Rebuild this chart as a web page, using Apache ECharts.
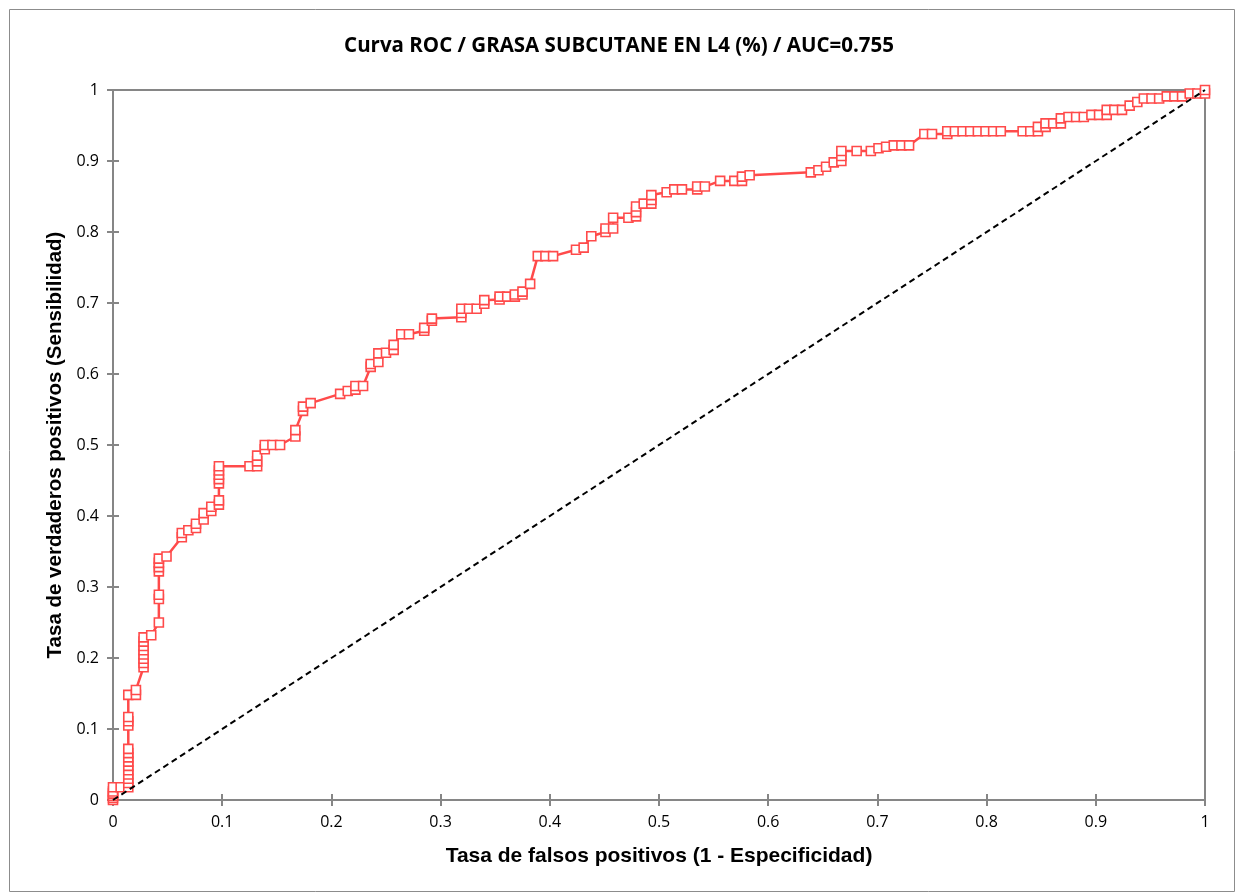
<!DOCTYPE html>
<html>
<head>
<meta charset="utf-8">
<script src="https://cdn.jsdelivr.net/npm/echarts@6/dist/echarts.min.js"></script>
<style>html,body{margin:0;padding:0;background:#fff;}#c{width:1238px;height:896px;}</style>
</head>
<body>
<div id="c"></div>
<script>
const titleText = 'Curva ROC / GRASA SUBCUTANE EN L4 (%) / AUC=0.755';
const xName = 'Tasa de falsos positivos (1 - Especificidad)';
const yName = 'Tasa de verdaderos positivos (Sensibilidad)';
const tickLabels = ['0','0.1','0.2','0.3','0.4','0.5','0.6','0.7','0.8','0.9','1'];

const fpr = [0,0,0,0,0,0,0.007,0.014,0.014,0.014,0.014,0.014,0.014,0.014,0.014,0.014,0.014,0.014,0.014,0.014,0.014,0.021,0.021,
0.028,0.028,0.028,0.028,0.028,0.028,0.028,0.028,0.035,0.042,0.042,0.042,0.042,0.042,0.042,0.042,0.049,0.063,0.063,0.069,0.076,0.076,
0.083,0.083,0.090,0.090,0.097,0.097,0.097,0.097,0.097,0.097,0.097,0.125,0.132,0.132,0.132,0.139,0.139,0.146,0.153,0.167,0.167,
0.174,0.174,0.181,0.208,0.215,0.222,0.222,0.229,0.236,0.236,0.243,0.243,0.250,0.257,0.257,0.264,0.271,0.285,0.285,0.292,0.292,
0.319,0.319,0.319,0.326,0.333,0.340,0.340,0.354,0.354,0.361,0.368,0.368,0.375,0.375,0.382,0.389,0.396,0.403,0.424,0.431,0.438,
0.451,0.451,0.458,0.458,0.472,0.479,0.479,0.479,0.486,0.493,0.493,0.493,0.507,0.514,0.521,0.535,0.535,0.542,0.556,0.569,0.576,
0.576,0.583,0.639,0.646,0.653,0.660,0.667,0.667,0.667,0.681,0.694,0.701,0.708,0.715,0.722,0.729,0.743,0.750,0.764,0.764,0.771,
0.778,0.785,0.792,0.799,0.806,0.813,0.833,0.840,0.847,0.847,0.854,0.854,0.861,0.868,0.868,0.875,0.882,0.889,0.896,0.903,0.910,
0.910,0.917,0.924,0.931,0.938,0.944,0.951,0.958,0.965,0.972,0.979,0.986,0.993,1.000,1.000];

const tpr = [0,0.003,0.006,0.009,0.012,0.018,0.018,0.018,0.024,0.030,0.036,0.042,0.048,0.054,0.060,0.066,0.072,0.105,0.111,0.117,0.148,0.148,0.155,
0.187,0.193,0.199,0.205,0.211,0.217,0.223,0.229,0.232,0.250,0.283,0.289,0.322,0.328,0.334,0.340,0.343,0.370,0.376,0.380,0.383,0.389,
0.395,0.404,0.407,0.413,0.416,0.422,0.446,0.452,0.458,0.464,0.470,0.470,0.470,0.477,0.485,0.494,0.500,0.500,0.500,0.512,0.521,
0.548,0.554,0.559,0.572,0.576,0.578,0.583,0.583,0.610,0.614,0.617,0.629,0.630,0.634,0.641,0.656,0.656,0.661,0.665,0.675,0.678,
0.680,0.686,0.692,0.692,0.692,0.699,0.704,0.705,0.709,0.709,0.709,0.712,0.712,0.716,0.727,0.766,0.766,0.766,0.775,0.778,0.794,
0.800,0.805,0.805,0.820,0.820,0.822,0.828,0.836,0.840,0.840,0.845,0.852,0.856,0.860,0.860,0.860,0.864,0.864,0.872,0.872,0.872,
0.878,0.880,0.884,0.887,0.892,0.898,0.900,0.907,0.914,0.914,0.914,0.918,0.920,0.922,0.922,0.922,0.938,0.938,0.938,0.942,0.942,
0.942,0.942,0.942,0.942,0.942,0.942,0.942,0.942,0.942,0.948,0.948,0.953,0.953,0.953,0.960,0.962,0.962,0.962,0.965,0.965,0.965,
0.972,0.972,0.972,0.978,0.983,0.988,0.988,0.988,0.991,0.991,0.991,0.995,0.995,0.995,1.000];

const diagX = [0, 1];
const diagY = [0, 1];

const rocData = fpr.map((x, i) => [x, tpr[i]]);
const diagData = diagX.map((x, i) => [x, diagY[i]]);

const chart = echarts.init(document.getElementById('c'), null, {renderer: 'canvas'});
const axisGray = '#868686';
const labelFont = {fontFamily: 'Open Sans', fontSize: 16, color: '#000'};

function baseX(extra) {
  return Object.assign({
    type: 'value', min: 0, max: 1, interval: 0.1,
    splitLine: {show: false},
    axisLine: {show: true, onZero: false, lineStyle: {color: axisGray, width: 2}},
    axisTick: {show: true, length: 6, lineStyle: {color: axisGray, width: 2}},
  }, extra);
}

chart.setOption({
  animation: false,
  backgroundColor: '#fff',
  title: {
    text: titleText, left: 'center', top: 31,
    textStyle: {fontFamily: 'Open Sans', fontWeight: 'bold', fontSize: 20.5, color: '#000'}
  },
  graphic: [{
    type: 'rect', left: 7, top: 7, shape: {width: 1225, height: 882},
    style: {fill: 'none', stroke: '#8c8c8c', lineWidth: 1}, silent: true
  }],
  grid: {left: 113, right: 33, top: 90, bottom: 96, show: true, borderColor: axisGray, borderWidth: 2, backgroundColor: 'transparent'},
  xAxis: [
    baseX({
      name: xName, nameLocation: 'middle', nameGap: 46,
      nameTextStyle: {fontFamily: 'Liberation Sans', fontWeight: 'bold', fontSize: 21, color: '#000'},
      axisLabel: Object.assign({margin: 14, formatter: (v) => tickLabels[Math.round(v * 10)]}, labelFont)
    }),
    baseX({
      position: 'bottom', axisLine: {show: false},
      axisTick: {show: true, inside: true, length: 6, lineStyle: {color: axisGray, width: 2}},
      axisLabel: {show: false}
    })
  ],
  yAxis: [
    baseX({
      name: yName, nameLocation: 'middle', nameGap: 47, nameRotate: 90,
      nameTextStyle: {fontFamily: 'Liberation Sans', fontWeight: 'bold', fontSize: 20.5, color: '#000'},
      axisLabel: Object.assign({margin: 14, formatter: (v) => tickLabels[Math.round(v * 10)]}, labelFont)
    }),
    baseX({
      position: 'left', axisLine: {show: false},
      axisTick: {show: true, inside: true, length: 6, lineStyle: {color: axisGray, width: 2}},
      axisLabel: {show: false}
    })
  ],
  series: [
    {
      type: 'line', data: rocData, xAxisIndex: 0, yAxisIndex: 0,
      clip: false, symbol: 'rect', symbolSize: 9, showAllSymbol: true,
      lineStyle: {color: '#ff4a4a', width: 2.5},
      itemStyle: {color: '#ffffff', borderColor: '#ff4a4a', borderWidth: 1.6},
      z: 3
    },
    {
      type: 'line', data: diagData, xAxisIndex: 0, yAxisIndex: 0,
      clip: false, symbol: 'none',
      lineStyle: {color: '#000', width: 2, type: [6, 4]},
      z: 4
    }
  ]
});
</script>
</body>
</html>
